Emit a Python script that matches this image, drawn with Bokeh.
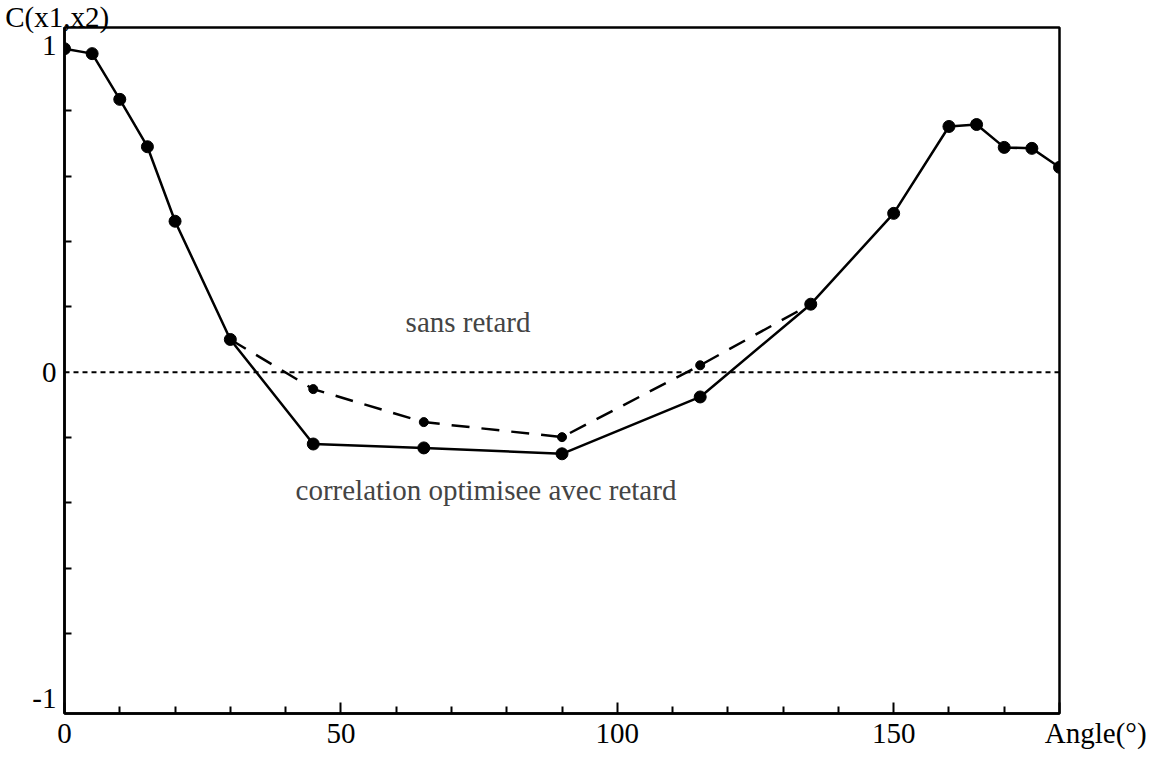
from bokeh.plotting import figure
from bokeh.models import FixedTicker, Label, Range1d, LinearAxis
from bokeh.embed import file_html
from bokeh.resources import INLINE

# Data
angle_opt = [0, 5, 10, 15, 20, 30, 45, 65, 90, 115, 135, 150, 160, 165, 170, 175, 180]
corr_opt = [0.99, 0.975, 0.835, 0.69, 0.462, 0.10, -0.22, -0.232, -0.25, -0.076, 0.208,
            0.486, 0.752, 0.758, 0.688, 0.685, 0.627]

angle_sans = [30, 45, 65, 90, 115, 135]
corr_sans = [0.10, -0.052, -0.153, -0.199, 0.021, 0.208]

x_major = [0, 50, 100, 150, 180]
x_minor = [10, 20, 30, 40, 60, 70, 80, 90, 110, 120, 130, 140, 160, 170]
x_labels = {0: "0", 50: "50", 100: "100", 150: "150", 180: "\u00a0" * 10 + "Angle(\u00b0)"}
y_major = [-1, 0, 1]
y_minor = [-0.8, -0.6, -0.4, -0.2, 0.2, 0.4, 0.6, 0.8]
y_labels = {-1: "-1", 0: "0", 1: "1"}
y_title = "C(x1,x2)"

FONT = "Liberation Serif"
FS = "29px"

p = figure(width=1147, height=755, output_backend="svg", toolbar_location=None,
           x_range=Range1d(0, 180), y_range=Range1d(-1.045, 1.055),
           min_border_left=64, min_border_right=88, min_border_top=31, min_border_bottom=37)
p.styles = {"margin-top": "-4px"}

p.background_fill_color = "white"
p.border_fill_color = "white"
p.outline_line_color = "black"
p.outline_line_width = 2.5
p.xgrid.visible = False
p.ygrid.visible = False

xa = p.below[0]
ya = p.left[0]

top = LinearAxis(ticker=FixedTicker(ticks=[0], minor_ticks=[]),
                 major_label_overrides={0: y_title + "\u00a0\u00a0"})
p.add_layout(top, "above")

for ax in (xa, ya, top):
    ax.axis_line_width = 2.5
    ax.axis_line_color = "black"
    ax.major_tick_out = 0
    ax.minor_tick_out = 0
    ax.major_tick_line_color = "black"
    ax.minor_tick_line_color = "black"
    ax.major_tick_line_width = 2
    ax.minor_tick_line_width = 2
    ax.major_label_text_font = FONT
    ax.major_label_text_font_size = FS
    ax.major_label_text_color = "black"

top.axis_line_color = None
top.major_tick_in = 0
top.minor_tick_in = 0
top.major_tick_line_color = None
top.minor_tick_line_color = None
top.major_label_standoff = -5

xa.ticker = FixedTicker(ticks=x_major, minor_ticks=x_minor)
xa.major_label_overrides = x_labels
xa.major_tick_in = 11
xa.minor_tick_in = 7
xa.major_label_standoff = 3

ya.ticker = FixedTicker(ticks=y_major, minor_ticks=y_minor)
ya.major_label_overrides = y_labels
ya.major_tick_in = 0
ya.minor_tick_in = 7
ya.major_label_standoff = 8

# zero reference line
p.line([0, 180], [0, 0], line_color="black", line_width=2, line_dash="5 4")

# sans retard (dashed)
p.line(angle_sans, corr_sans, line_color="black", line_width=2.5, line_dash="18 12")
p.scatter(angle_sans, corr_sans, size=9, color="black")

# correlation optimisee avec retard (solid)
p.line(angle_opt, corr_opt, line_color="black", line_width=2.5)
p.scatter(angle_opt, corr_opt, size=12, color="black")

p.add_layout(Label(x=73, y=0.153, text="sans retard", text_font=FONT,
                   text_font_size=FS, text_align="center", text_baseline="middle"))
p.add_layout(Label(x=41.8, y=-0.36, text="correlation  optimisee avec retard", text_font=FONT,
                   text_font_size=FS, text_align="left", text_baseline="middle"))

open("out.html", "w").write(file_html(p, INLINE))
